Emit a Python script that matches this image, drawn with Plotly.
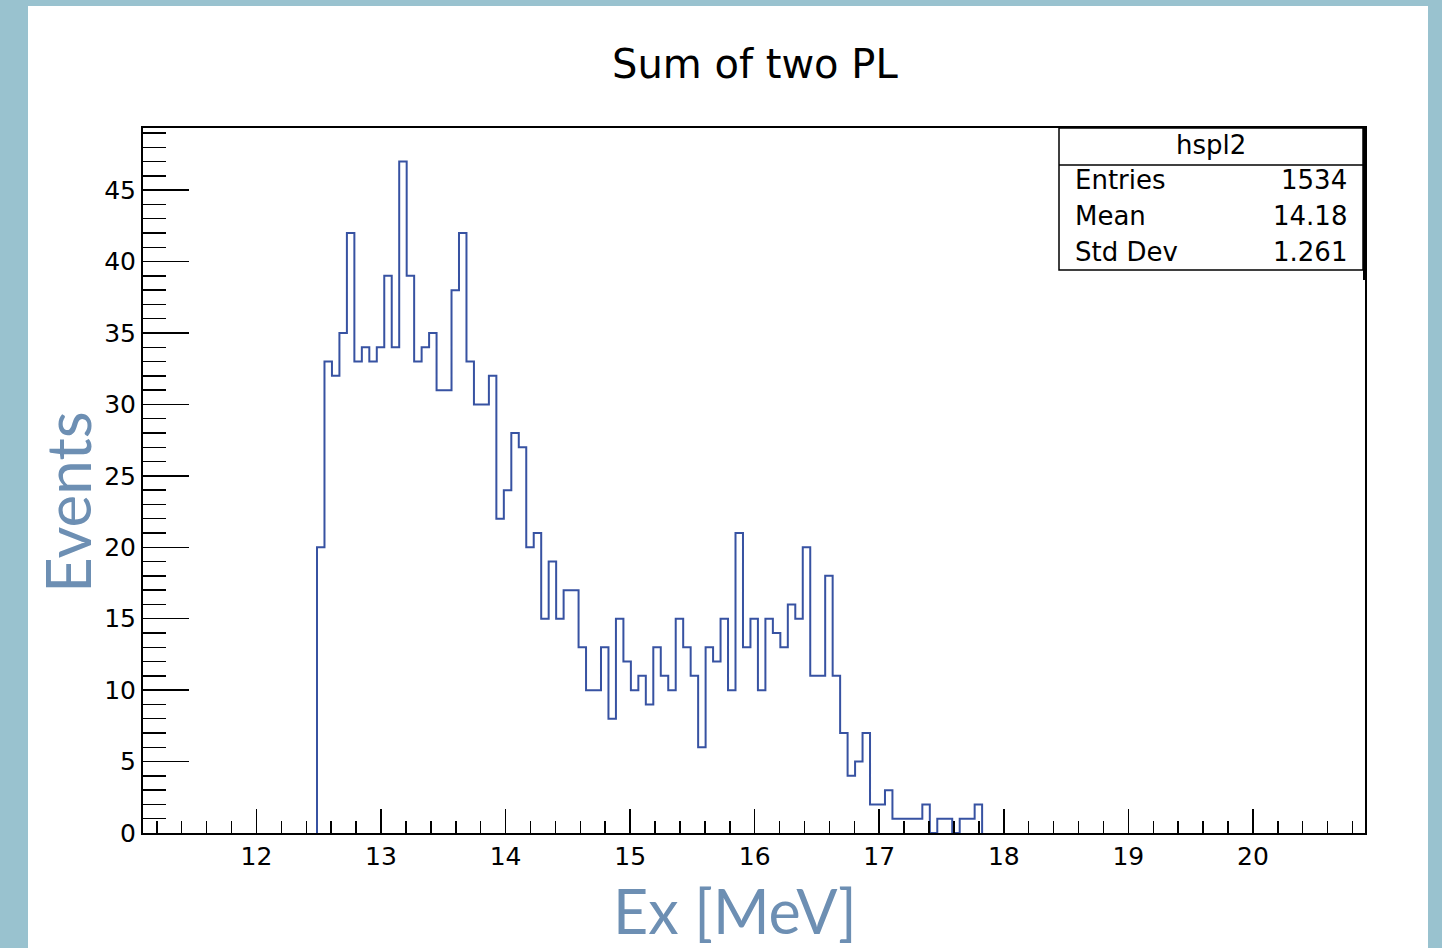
import plotly.graph_objects as go

# ---- data ----
bin_start = 12.486      # lower edge of first filled bin [MeV]
bin_width = 0.06        # MeV
counts = [
    20, 33, 32, 35, 42, 33, 34, 33, 34, 39, 34, 47, 39, 33, 34, 35, 31, 31, 38, 42,
    33, 30, 30, 32, 22, 24, 28, 27, 20, 21, 15, 19, 15, 17, 17, 13, 10, 10, 13,
    8, 15, 12, 10, 11, 9, 13, 11, 10, 15, 13, 11, 6, 13, 12, 15, 10, 21, 13, 15, 10,
    15, 14, 13, 16, 15, 20, 11, 11, 18, 11, 7, 4, 5, 7, 2, 2, 3, 1, 1, 1, 1, 2, 0,
    1, 1, 0, 1, 1, 2,
]
x_range = [11.089, 20.90]
y_range = [0, 49.35]
stat_names = ["Entries", "Mean", "Std Dev"]
stat_values = ["1534", "14.18", "1.261"]
hist_name = "hspl2"
title_text = "Sum of two PL"
x_title = "Ex [MeV]"
y_title = "Events"

# ---- build step outline ----
edges = [bin_start + i * bin_width for i in range(len(counts) + 1)]
xs = [edges[0]] + edges
ys = [0] + counts + [0]

W, H = 1442, 948
L, R, T, B = 143, 1442 - 1365, 128, 948 - 833
pw, ph = W - L - R, H - T - B
PAGE_BG = "#99c2cf"


def px(x):
    return (x - L) / pw


def py(y):
    return (H - B - y) / ph


fig = go.Figure()
fig.add_trace(go.Scatter(
    x=xs, y=ys, mode="lines", line=dict(shape="hv", color="#3752a2", width=2),
    hoverinfo="skip", showlegend=False,
))

axis_font = dict(family="DejaVu Sans", size=25, color="black")
fig.update_xaxes(
    range=x_range, showgrid=False, zeroline=False,
    showline=True, mirror=True, linecolor="black", linewidth=2,
    ticks="inside", ticklen=24, tickwidth=1.5, tickcolor="black",
    dtick=1, tick0=0, tickfont=axis_font,
    minor=dict(dtick=0.2, tick0=0, ticks="inside", ticklen=12, tickwidth=1.5, tickcolor="black"),
)
fig.update_yaxes(
    range=y_range, showgrid=False, zeroline=False,
    showline=True, mirror=True, linecolor="black", linewidth=2,
    ticks="inside", ticklen=46, tickwidth=1.5, tickcolor="black",
    dtick=5, tick0=0, tickfont=axis_font,
    minor=dict(dtick=1, tick0=0, ticks="inside", ticklen=23, tickwidth=1.5, tickcolor="black"),
)

shapes = [
    # white canvas on the light-blue page
    dict(type="rect", xref="paper", yref="paper", layer="below",
         x0=px(28), x1=px(1428), y0=py(970), y1=py(6),
         fillcolor="white", line=dict(width=0)),
    # stats box
    dict(type="rect", xref="paper", yref="paper",
         x0=px(1059), x1=px(1363), y0=py(270), y1=py(128),
         fillcolor="white", line=dict(color="black", width=1.5)),
    dict(type="line", xref="paper", yref="paper",
         x0=px(1059), x1=px(1363), y0=py(165), y1=py(165),
         line=dict(color="black", width=1.5)),
    # stats box shadow (right side)
    dict(type="line", xref="paper", yref="paper",
         x0=px(1364.5), x1=px(1364.5), y0=py(280), y1=py(128),
         line=dict(color="black", width=3)),
]

stat_font = dict(family="DejaVu Sans", size=26, color="black")
annotations = [
    dict(text=hist_name, xref="paper", yref="paper", x=px(1211), y=py(145),
         showarrow=False, xanchor="center", yanchor="middle", font=stat_font),
]
row_y = [180, 216, 252]
for name, val, yy in zip(stat_names, stat_values, row_y):
    annotations.append(dict(text=name, xref="paper", yref="paper", x=px(1073), y=py(yy),
                            showarrow=False, xanchor="left", yanchor="middle", font=stat_font))
    annotations.append(dict(text=val, xref="paper", yref="paper", x=px(1349), y=py(yy),
                            showarrow=False, xanchor="right", yanchor="middle", font=stat_font))

title_color = "#6d8fb3"
annotations.append(dict(text=y_title, xref="paper", yref="paper", x=px(67), y=py(503),
                        showarrow=False, textangle=-90, xanchor="center", yanchor="middle",
                        font=dict(family="Lato", size=62, color=title_color)))
annotations.append(dict(text=x_title, xref="paper", yref="paper", x=px(735), y=py(910),
                        showarrow=False, xanchor="center", yanchor="middle",
                        font=dict(family="Lato", size=61, color=title_color)))
annotations.append(dict(text=title_text, xref="paper", yref="paper", x=px(755), y=py(64),
                        showarrow=False, xanchor="center", yanchor="middle",
                        font=dict(family="DejaVu Sans", size=40, color="black")))

fig.update_layout(
    width=W, height=H,
    margin=dict(l=L, r=R, t=T, b=B, autoexpand=False),
    paper_bgcolor=PAGE_BG, plot_bgcolor="white",
    shapes=shapes, annotations=annotations,
    showlegend=False,
)

fig.write_html(
    "out.html",
    config={"displayModeBar": False, "staticPlot": True},
    post_script=(
        "document.body.style.margin='0';"
        "document.body.style.overflow='hidden';"
        "document.body.style.background='" + PAGE_BG + "';"
    ),
)
